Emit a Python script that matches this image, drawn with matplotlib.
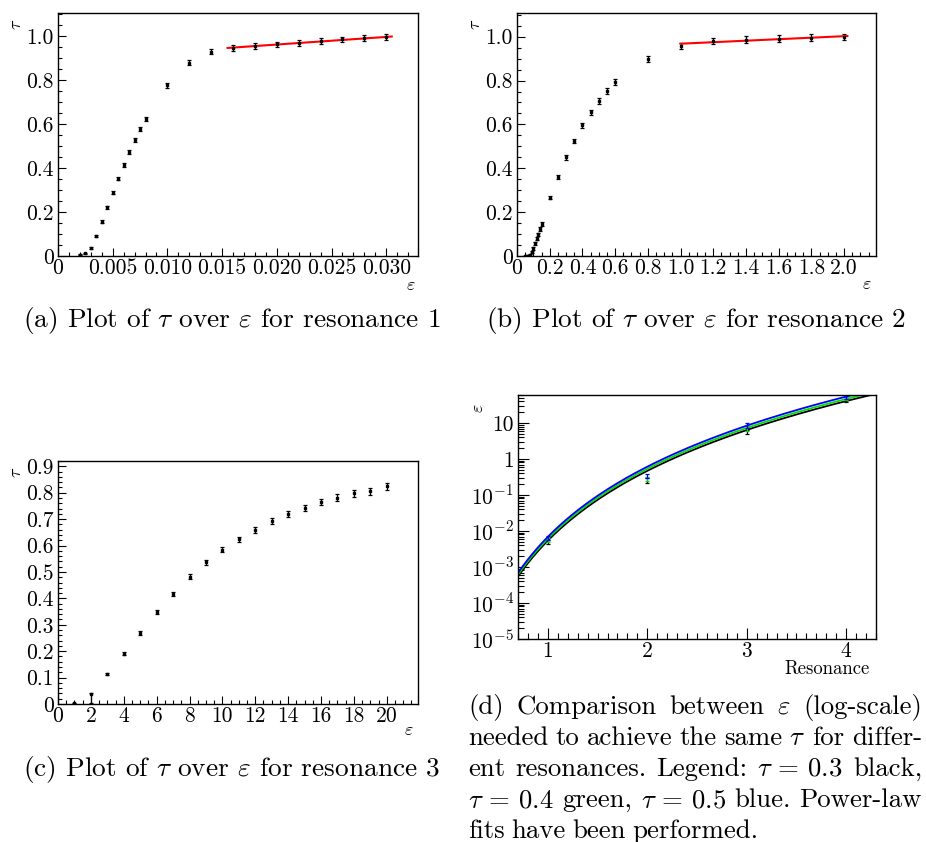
import numpy as np
import matplotlib
matplotlib.use("Agg")
import matplotlib.pyplot as plt
from matplotlib.ticker import MultipleLocator, FuncFormatter, LogLocator, NullFormatter

plt.rcParams['font.family'] = 'cmr10'
plt.rcParams['mathtext.fontset'] = 'cm'
plt.rcParams['axes.formatter.use_mathtext'] = True
plt.rcParams['axes.unicode_minus'] = False

# --------------------------
# Data
# --------------------------
# (a) resonance 1
eps_a = [0.002, 0.0025, 0.003, 0.0035, 0.004, 0.0045, 0.005, 0.0055, 0.006, 0.0065,
         0.007, 0.0075, 0.008, 0.010, 0.012, 0.014, 0.016, 0.018, 0.020, 0.022,
         0.024, 0.026, 0.028, 0.030]
tau_a = [0.005, 0.012, 0.035, 0.092, 0.156, 0.221, 0.288, 0.352, 0.415, 0.473,
         0.527, 0.577, 0.624, 0.777, 0.879, 0.929, 0.947, 0.956, 0.962, 0.968,
         0.977, 0.985, 0.992, 0.997]
err_a = [0.002, 0.003, 0.004, 0.005, 0.006, 0.007, 0.008, 0.008, 0.009, 0.009,
         0.010, 0.010, 0.010, 0.011, 0.012, 0.012, 0.013, 0.013, 0.013, 0.013,
         0.013, 0.013, 0.013, 0.013]
fit_a_x = [0.0155, 0.0305]
fit_a_y = [0.946, 0.998]

# (b) resonance 2
eps_b = [0.05, 0.06, 0.07, 0.08, 0.09, 0.10, 0.11, 0.12, 0.13, 0.14, 0.15,
         0.20, 0.25, 0.30, 0.35, 0.40, 0.45, 0.50, 0.55, 0.60, 0.80,
         1.0, 1.2, 1.4, 1.6, 1.8, 2.0]
tau_b = [0.0, 0.0, 0.002, 0.006, 0.017, 0.035, 0.058, 0.079, 0.099, 0.122, 0.146,
         0.266, 0.362, 0.450, 0.524, 0.596, 0.655, 0.707, 0.751, 0.793, 0.897,
         0.958, 0.980, 0.986, 0.991, 0.995, 0.999]
err_b = [0.002, 0.002, 0.003, 0.004, 0.005, 0.006, 0.006, 0.007, 0.007, 0.008, 0.008,
         0.008, 0.009, 0.010, 0.011, 0.011, 0.012, 0.012, 0.013, 0.013, 0.014,
         0.015, 0.015, 0.015, 0.015, 0.015, 0.015]
fit_b_x = [1.0, 2.02]
fit_b_y = [0.968, 1.003]

# (c) resonance 3
eps_c = [1, 2, 3, 4, 5, 6, 7, 8, 9, 10, 11, 12, 13, 14, 15, 16, 17, 18, 19, 20]
tau_c = [0.002, 0.038, 0.113, 0.190, 0.269, 0.347, 0.417, 0.482, 0.536, 0.584,
         0.623, 0.660, 0.694, 0.719, 0.743, 0.765, 0.781, 0.797, 0.805, 0.825]
err_c_lo = [0.002, 0.035, 0.004, 0.005, 0.006, 0.007, 0.008, 0.009, 0.010, 0.010,
            0.011, 0.011, 0.012, 0.012, 0.012, 0.013, 0.013, 0.013, 0.013, 0.013]
err_c_hi = [0.002, 0.005, 0.004, 0.005, 0.006, 0.007, 0.008, 0.009, 0.010, 0.010,
            0.011, 0.011, 0.012, 0.012, 0.012, 0.013, 0.013, 0.013, 0.013, 0.013]

# (d) epsilon needed for tau = 0.3 / 0.4 / 0.5
resonance = [1, 2, 3, 4]
eps_t03 = [5.0e-3, 0.25, 5.7, 42.0]
eps_t04 = [5.6e-3, 0.28, 7.0, 47.0]
eps_t05 = [6.5e-3, 0.34, 8.7, 52.0]
rel_err_d = [0.12, 0.15, 0.15, 0.10]
# power-law fits eps = a * r**b
fit_t03 = (5.4e-3, 6.44)
fit_t04 = (6.1e-3, 6.45)
fit_t05 = (6.9e-3, 6.47)

# --------------------------
# Figure
# --------------------------
W, H = 926, 842
fig = plt.figure(figsize=(W / 100, H / 100), dpi=100)


def px_axes(left, top, right, bottom):
    return fig.add_axes([left / W, 1 - bottom / H, (right - left) / W, (bottom - top) / H])


def root_style(ax):
    for s in ax.spines.values():
        s.set_linewidth(1.0)
    ax.tick_params(which='both', direction='in', top=False, right=False,
                   labelsize=15.5, colors='black', pad=3)
    ax.tick_params(axis='x', pad=2)
    ax.tick_params(which='major', length=6, width=0.8)
    ax.tick_params(which='minor', length=3, width=0.8)


def dec_fmt(nd):
    return FuncFormatter(lambda v, p: '0' if abs(v) < 1e-12 else f'{v:.{nd}f}')


def draw_points(ax, x, y, err):
    ax.errorbar(x, y, yerr=err, fmt='s', color='black', ms=1.5, elinewidth=0.9,
                capsize=1.6, capthick=0.9)


def label_px(x, y, s, **kw):
    fig.text(x / W, 1 - y / H, s, **kw)


# (a)
ax1 = px_axes(58, 13, 418, 256)
draw_points(ax1, eps_a, tau_a, err_a)
ax1.plot(fit_a_x, fit_a_y, color='red', lw=1.5)
ax1.set_xlim(0, 0.0329)
ax1.set_ylim(0, 1.105)
ax1.xaxis.set_major_locator(MultipleLocator(0.005))
ax1.xaxis.set_minor_locator(MultipleLocator(0.001))
ax1.yaxis.set_major_locator(MultipleLocator(0.2))
ax1.yaxis.set_minor_locator(MultipleLocator(0.05))
ax1.xaxis.set_major_formatter(dec_fmt(3))
ax1.yaxis.set_major_formatter(dec_fmt(1))
root_style(ax1)

# (b)
ax2 = px_axes(517, 13, 876, 256)
draw_points(ax2, eps_b, tau_b, err_b)
ax2.plot(fit_b_x, fit_b_y, color='red', lw=1.5)
ax2.set_xlim(0, 2.195)
ax2.set_ylim(0, 1.108)
ax2.xaxis.set_major_locator(MultipleLocator(0.2))
ax2.xaxis.set_minor_locator(MultipleLocator(0.05))
ax2.yaxis.set_major_locator(MultipleLocator(0.2))
ax2.yaxis.set_minor_locator(MultipleLocator(0.05))
ax2.xaxis.set_major_formatter(dec_fmt(1))
ax2.yaxis.set_major_formatter(dec_fmt(1))
root_style(ax2)

# (c)
ax3 = px_axes(58, 461, 418, 704)
draw_points(ax3, eps_c, tau_c, [err_c_lo, err_c_hi])
ax3.set_xlim(0, 21.9)
ax3.set_ylim(0, 0.92)
ax3.xaxis.set_major_locator(MultipleLocator(2))
ax3.xaxis.set_minor_locator(MultipleLocator(0.5))
ax3.yaxis.set_major_locator(MultipleLocator(0.1))
ax3.yaxis.set_minor_locator(MultipleLocator(0.02))
ax3.xaxis.set_major_formatter(dec_fmt(0))
ax3.yaxis.set_major_formatter(dec_fmt(1))
root_style(ax3)

# (d)
ax4 = px_axes(518, 395, 876, 639)
rr = np.linspace(0.7, 4.3, 300)
for (a, b), vals, col in [(fit_t03, eps_t03, 'black'), (fit_t04, eps_t04, '#00dd00'),
                          (fit_t05, eps_t05, 'blue')]:
    ax4.plot(rr, a * rr ** b, color=col, lw=1.3)
    ax4.errorbar(resonance, vals, yerr=np.array(vals) * np.array(rel_err_d), fmt='none',
                 ecolor=col, elinewidth=0.9, capsize=1.5, capthick=0.9)
ax4.set_yscale('log')
ax4.set_xlim(0.7, 4.3)
ax4.set_ylim(1e-5, 60)
ax4.xaxis.set_major_locator(MultipleLocator(1))
ax4.xaxis.set_minor_locator(MultipleLocator(0.1))
ax4.xaxis.set_major_formatter(dec_fmt(0))
ax4.yaxis.set_major_locator(LogLocator(base=10, numticks=20))
ax4.yaxis.set_minor_locator(LogLocator(base=10, subs=np.arange(2, 10), numticks=20))
ax4.yaxis.set_minor_formatter(NullFormatter())
ax4.yaxis.set_major_formatter(FuncFormatter(
    lambda v, p: {1: '1', 10: '10'}.get(round(v, 6), f'$10^{{{int(round(np.log10(v)))}}}$')))
root_style(ax4)
ax4.tick_params(which='minor', length=4)
ax4.tick_params(which='major', length=8)

# axis titles
lab = dict(fontsize=13, ha='center', va='center')
label_px(16, 24, r'$\tau$', rotation=90, **lab)
label_px(475, 24, r'$\tau$', rotation=90, **lab)
label_px(16, 472, r'$\tau$', rotation=90, **lab)
label_px(478, 408, r'$\varepsilon$', rotation=90, **lab)
label_px(411, 285, r'$\varepsilon$', **lab)
label_px(867, 284, r'$\varepsilon$', **lab)
label_px(409, 730, r'$\varepsilon$', **lab)
label_px(870, 669, 'Resonance', fontsize=13.5, ha='right', va='center')

# captions
cap = dict(fontsize=19.7, ha='center', va='baseline')
label_px(232, 327, r'(a) Plot of $\tau$ over $\varepsilon$ for resonance 1', **cap)
label_px(696, 327, r'(b) Plot of $\tau$ over $\varepsilon$ for resonance 2', **cap)
label_px(232, 776, r'(c) Plot of $\tau$ over $\varepsilon$ for resonance 3', **cap)

# justified caption for (d)
d_lines = [
    ['(d)', 'Comparison', 'between', r'$\varepsilon$', '(log-scale)'],
    ['needed', 'to', 'achieve', 'the', 'same', r'$\tau$', 'for', 'differ-'],
    ['ent', 'resonances.', 'Legend:', r'$\tau$ = 0.3', 'black,'],
    [r'$\tau$ = 0.4', 'green,', r'$\tau$ = 0.5', 'blue.', 'Power-law'],
    ['fits', 'have', 'been', 'performed.'],
]
d_left, d_right = 468, 922
d_base0, d_step = 714, 31
renderer = fig.canvas.get_renderer()
for i, words in enumerate(d_lines):
    base = d_base0 + i * d_step
    texts = [fig.text(0, 0, w, fontsize=19.3, va='baseline') for w in words]
    widths = [t.get_window_extent(renderer).width for t in texts]
    if i < len(d_lines) - 1:
        gap = (d_right - d_left - sum(widths)) / (len(words) - 1)
    else:
        gap = 6.5
    x = d_left
    for t, w in zip(texts, widths):
        t.set_position((x / W, 1 - base / H))
        x += w + gap

fig.savefig('out.png', dpi=100)
